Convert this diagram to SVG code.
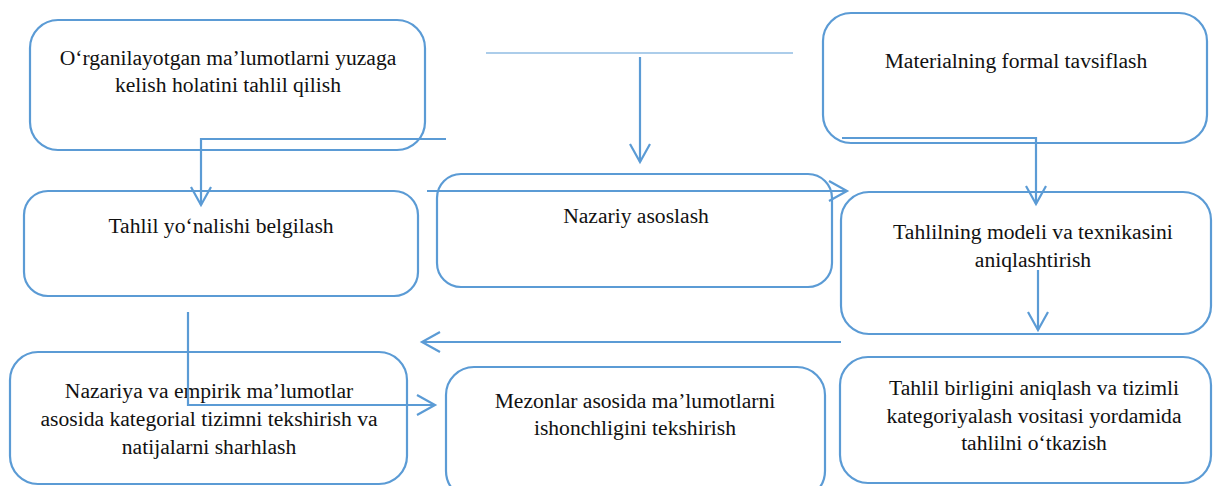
<svg xmlns="http://www.w3.org/2000/svg" width="1214" height="486" viewBox="0 0 1214 486">
<style>
.box{fill:#fff;stroke:#5B9BD5;stroke-width:2.2}
.t{font-family:"Liberation Serif","Times New Roman",serif;font-size:21.6px;fill:#111;text-anchor:middle}
.c{fill:none;stroke:#5B9BD5;stroke-width:2.2}
.thin{fill:none;stroke:#5B9BD5;stroke-width:1.2}
</style>
<defs>
<marker id="ah" markerUnits="userSpaceOnUse" markerWidth="24" markerHeight="24" refX="19" refY="11" orient="auto" overflow="visible">
<path d="M1,1 L19,11 L1,21" fill="none" stroke="#5B9BD5" stroke-width="2.2"/>
</marker>
</defs>
<rect width="1214" height="486" fill="#fff"/>
<g id="n1"><rect class="box" x="30" y="20" width="395" height="130" rx="28"/>
<text class="t" x="228" y="65">O‘rganilayotgan ma’lumotlarni yuzaga</text>
<text class="t" x="228" y="92">kelish holatini tahlil qilish</text></g>
<g id="n2"><rect class="box" x="823" y="13" width="384" height="130" rx="28"/>
<text class="t" x="1016" y="68">Materialning formal tavsiflash</text></g>
<g id="n3"><rect class="box" x="24" y="191" width="394" height="105" rx="24"/>
<text class="t" x="221" y="233">Tahlil yo‘nalishi belgilash</text></g>
<g id="n4"><rect class="box" x="437" y="174" width="395" height="113" rx="24"/>
<text class="t" x="636" y="223">Nazariy asoslash</text></g>
<g id="n5"><rect class="box" x="841" y="192" width="370" height="142" rx="28"/>
<text class="t" x="1033" y="239">Tahlilning modeli va texnikasini</text>
<text class="t" x="1033" y="267">aniqlashtirish</text></g>
<g id="n6"><rect class="box" x="840" y="357" width="371" height="126" rx="28"/>
<text class="t" x="1034" y="395">Tahlil birligini aniqlash va tizimli</text>
<text class="t" x="1034" y="423">kategoriyalash vositasi yordamida</text>
<text class="t" x="1034" y="450">tahlilni o‘tkazish</text></g>
<g id="n7"><rect class="box" x="10" y="352" width="397" height="132" rx="28"/>
<text class="t" x="209" y="398">Nazariya va empirik ma’lumotlar</text>
<text class="t" x="209" y="426">asosida kategorial tizimni tekshirish va</text>
<text class="t" x="209" y="454">natijalarni sharhlash</text></g>
<g id="n8"><rect class="box" x="446" y="367" width="379" height="132" rx="28"/>
<text class="t" x="635" y="408">Mezonlar asosida ma’lumotlarni</text>
<text class="t" x="635" y="435">ishonchligini tekshirish</text></g>
<g id="connectors">
<path class="thin" d="M486,53 H793"/>
<path class="c" d="M640,57 V162" marker-end="url(#ah)"/>
<path class="c" d="M446,139 H201 V205" marker-end="url(#ah)"/>
<path class="c" d="M427,191 H847" marker-end="url(#ah)"/>
<path class="c" d="M842,138 H1036 V204" marker-end="url(#ah)"/>
<path class="c" d="M1038,270 V330" marker-end="url(#ah)"/>
<path class="c" d="M841,342 H422" marker-end="url(#ah)"/>
<path class="c" d="M188,312 V405 H435" marker-end="url(#ah)"/>
</g>
</svg>
